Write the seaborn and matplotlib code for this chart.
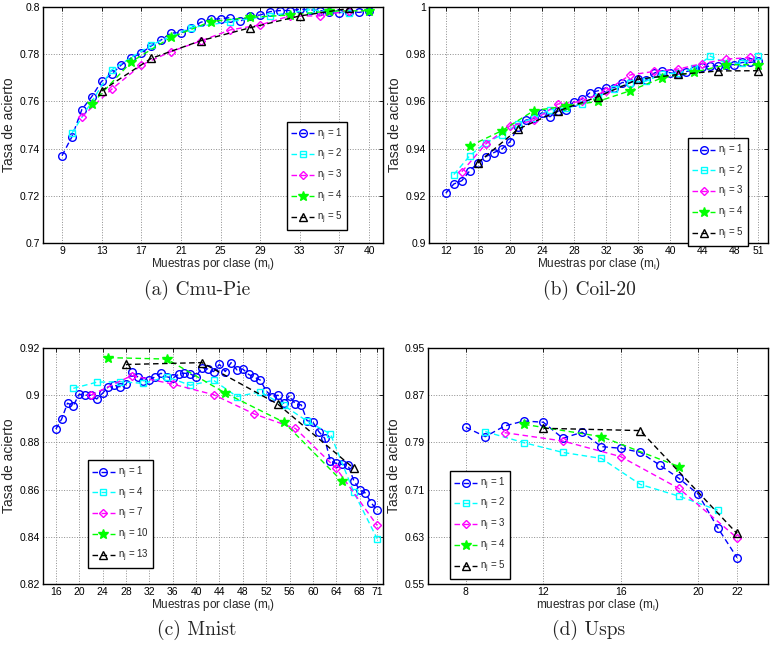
import matplotlib
matplotlib.use("Agg")
import matplotlib.pyplot as plt
from matplotlib.ticker import FuncFormatter
import seaborn as sns

# ---- (a) Cmu-Pie
pie_x1 = list(range(9, 41))
pie_y1 = [0.737, 0.745, 0.7565, 0.762, 0.7685, 0.7715, 0.7755, 0.7785, 0.7805, 0.7835,
          0.786, 0.789, 0.789, 0.791, 0.7935, 0.7948, 0.795, 0.7955, 0.794, 0.7962,
          0.7966, 0.798, 0.7985, 0.7985, 0.799, 0.7988, 0.7985, 0.798, 0.7976, 0.798,
          0.7977, 0.7985]
pie_x2 = [10, 14, 18, 22, 26, 30, 34, 38]
pie_y2 = [0.7465, 0.7733, 0.7839, 0.7912, 0.7938, 0.7963, 0.7988, 0.7975]
pie_x3 = [11, 14, 17, 20, 23, 26, 29, 32, 35, 38]
pie_y3 = [0.7535, 0.7651, 0.7754, 0.7811, 0.7856, 0.7903, 0.7924, 0.7962, 0.7962, 0.7985]
pie_x4 = [12, 16, 20, 24, 28, 32, 36, 40]
pie_y4 = [0.7589, 0.7768, 0.7871, 0.7938, 0.7956, 0.7966, 0.7983, 0.7984]
pie_x5 = [13, 18, 23, 28, 33, 38]
pie_y5 = [0.7645, 0.7782, 0.7857, 0.7912, 0.7962, 0.7994]

# ---- (b) Coil-20
coil_x1 = list(range(12, 52))
coil_y1 = [0.9211, 0.925, 0.9264, 0.9306, 0.934, 0.9366, 0.9383, 0.9398, 0.9429, 0.9490,
           0.9521, 0.9528, 0.9552, 0.9535, 0.9559, 0.9564, 0.9599, 0.961, 0.9637, 0.9645,
           0.9658, 0.9658, 0.968, 0.968, 0.9694, 0.969, 0.972, 0.9730, 0.9721, 0.9716,
           0.9726, 0.9735, 0.9745, 0.975, 0.9751, 0.9756, 0.9756, 0.9765, 0.9765, 0.977]
coil_x2 = [13, 15, 17, 19, 21, 23, 25, 27, 29, 31, 33, 35, 37, 39, 41, 43, 45, 47, 49, 51]
coil_y2 = [0.929, 0.937, 0.9425, 0.9458, 0.9505, 0.953, 0.9565, 0.957, 0.9590, 0.962,
           0.9652, 0.968, 0.9686, 0.9715, 0.972, 0.974, 0.9792, 0.9762, 0.9762, 0.9792]
coil_x3 = [14, 17, 20, 23, 26, 29, 32, 35, 38, 41, 44, 47, 50]
coil_y3 = [0.9302, 0.942, 0.9496, 0.952, 0.9589, 0.9600, 0.9645, 0.9712, 0.9727, 0.9737,
           0.976, 0.9779, 0.9786]
coil_x4 = [15, 19, 23, 27, 31, 35, 39, 43, 47, 51]
coil_y4 = [0.9411, 0.9476, 0.9561, 0.958, 0.9600, 0.9645, 0.9700, 0.9724, 0.9755, 0.9756]
coil_x5 = [16, 21, 26, 31, 36, 41, 46, 51]
coil_y5 = [0.934, 0.9482, 0.9559, 0.962, 0.9694, 0.9714, 0.9729, 0.9730]

# ---- (c) Mnist
mn_x1 = list(range(16, 72))
mn_y1 = [0.8856, 0.8899, 0.8966, 0.8956, 0.9004, 0.9, 0.9, 0.8984, 0.9008, 0.9036,
         0.9042, 0.9036, 0.9046, 0.9097, 0.9078, 0.9062, 0.9064, 0.9078, 0.9093, 0.9078,
         0.9072, 0.9088, 0.9093, 0.909, 0.9078, 0.9117, 0.9111, 0.91, 0.9131, 0.91,
         0.9138, 0.9107, 0.9111, 0.9088, 0.9076, 0.9064, 0.9018, 0.8994, 0.9, 0.8966,
         0.8998, 0.8962, 0.8959, 0.8892, 0.8886, 0.8846, 0.8818, 0.8721, 0.8711, 0.8707,
         0.8704, 0.8638, 0.8599, 0.8585, 0.8543, 0.8514]
mn_x2 = [19, 23, 27, 31, 35, 39, 43, 47, 51, 55, 59, 63, 67, 71]
mn_y2 = [0.9029, 0.9055, 0.9057, 0.905, 0.9078, 0.9042, 0.9063, 0.8994, 0.9014, 0.8957,
         0.889, 0.8836, 0.8589, 0.8392]
mn_x3 = [22, 29, 36, 43, 50, 57, 64, 71]
mn_y3 = [0.9, 0.9083, 0.9047, 0.9002, 0.892, 0.8859, 0.869, 0.8448]
mn_x4 = [25, 35, 45, 55, 65]
mn_y4 = [0.9159, 0.9153, 0.9009, 0.8886, 0.8635]
mn_x5 = [28, 41, 54, 67]
mn_y5 = [0.913, 0.9138, 0.8962, 0.869]

# ---- (d) Usps
us_x1 = list(range(8, 23))
us_y1 = [0.8156, 0.7997, 0.8178, 0.8263, 0.8241, 0.797, 0.8072, 0.7828, 0.78, 0.7732,
         0.7517, 0.7291, 0.702, 0.6455, 0.5947]
us_x2 = [9, 11, 13, 15, 17, 19, 21]
us_y2 = [0.8082, 0.7895, 0.773, 0.7628, 0.7188, 0.6989, 0.6752]
us_x3 = [10, 13, 16, 19, 22]
us_y3 = [0.8065, 0.7924, 0.7658, 0.7119, 0.6283]
us_x4 = [11, 15, 19]
us_y4 = [0.8206, 0.7997, 0.749]
us_x5 = [12, 17, 22]
us_y5 = [0.8139, 0.81, 0.6356]

n_labels_std = [1, 2, 3, 4, 5]
n_labels_mnist = [1, 4, 7, 10, 13]

ticks_a_x = [9, 13, 17, 21, 25, 29, 33, 37, 40]
ticks_a_y = [0.7, 0.72, 0.74, 0.76, 0.78, 0.8]
ticks_b_x = [12, 16, 20, 24, 28, 32, 36, 40, 44, 48, 51]
ticks_b_y = [0.9, 0.92, 0.94, 0.96, 0.98, 1.0]
ticks_c_x = [16, 20, 24, 28, 32, 36, 40, 44, 48, 52, 56, 60, 64, 68, 71]
ticks_c_y = [0.82, 0.84, 0.86, 0.88, 0.9, 0.92]
ticks_d_x = [8, 12, 16, 20, 22]
ticks_d_y = [0.55, 0.63, 0.71, 0.79, 0.87, 0.95]

captions = ["(a) Cmu-Pie", "(b) Coil-20", "(c) Mnist", "(d) Usps"]

sns.set_style("white")
plt.rcParams["font.family"] = ["Liberation Sans", "DejaVu Sans"]
plt.rcParams["mathtext.fontset"] = "custom"
plt.rcParams["mathtext.rm"] = "Liberation Sans"

colors = ["blue", "cyan", "magenta", "lime", "black"]
markers = ["o", "s", "D", "*", "^"]
msizes = [5.5, 5, 4, 7, 5.5]

panels = [
    dict(series=[(pie_x1, pie_y1), (pie_x2, pie_y2), (pie_x3, pie_y3), (pie_x4, pie_y4), (pie_x5, pie_y5)],
         labels=n_labels_std, xt=ticks_a_x, yt=ticks_a_y, xlim=(7.08, 41.4),
         pos=[0.0558, 0.6273, 0.4416, 0.3620], leg=(0.718, 0.513),
         xlabel="Muestras por clase (m$_\\mathregular{i}$)"),
    dict(series=[(coil_x1, coil_y1), (coil_x2, coil_y2), (coil_x3, coil_y3), (coil_x4, coil_y4), (coil_x5, coil_y5)],
         labels=n_labels_std, xt=ticks_b_x, yt=ticks_b_y, xlim=(9.9, 52.2),
         pos=[0.5571, 0.6273, 0.4403, 0.3620], leg=(0.764, 0.445),
         xlabel="Muestras por clase (m$_\\mathregular{i}$)"),
    dict(series=[(mn_x1, mn_y1), (mn_x2, mn_y2), (mn_x3, mn_y3), (mn_x4, mn_y4), (mn_x5, mn_y5)],
         labels=n_labels_mnist, xt=ticks_c_x, yt=ticks_c_y, xlim=(13.8, 72.0),
         pos=[0.0558, 0.1043, 0.4416, 0.3620], leg=(0.132, 0.525),
         xlabel="Muestras por clase (m$_\\mathregular{i}$)"),
    dict(series=[(us_x1, us_y1), (us_x2, us_y2), (us_x3, us_y3), (us_x4, us_y4), (us_x5, us_y5)],
         labels=n_labels_std, xt=ticks_d_x, yt=ticks_d_y, xlim=(6.04, 23.6),
         pos=[0.5558, 0.1043, 0.4416, 0.3620], leg=(0.065, 0.479),
         xlabel="muestras por clase (m$_\\mathregular{i}$)"),
]

fig = plt.figure(figsize=(7.7, 6.52), dpi=100)
fmt = FuncFormatter(lambda v, p: "%g" % round(v, 4))

for p in panels:
    ax = fig.add_axes(p["pos"])
    for k, (xs, ys) in enumerate(p["series"]):
        fc = colors[k] if markers[k] == "*" else "none"
        sns.lineplot(x=xs, y=ys, ax=ax, color=colors[k], linestyle=(0, (4, 2.5)),
                     linewidth=1.0, marker=markers[k], markersize=msizes[k],
                     markerfacecolor=fc, markeredgecolor=colors[k], markeredgewidth=1.0,
                     errorbar=None, sort=False,
                     label="n$_\\mathregular{j}$ = %d" % p["labels"][k])
    ax.set_xlim(*p["xlim"])
    ax.set_ylim(p["yt"][0], p["yt"][-1])
    ax.set_xticks(p["xt"])
    ax.set_yticks(p["yt"])
    ax.yaxis.set_major_formatter(fmt)
    ax.grid(True, linestyle=":", color="0.55", linewidth=0.7)
    ax.tick_params(direction="in", length=3, width=0.6, top=True, right=True,
                   labelsize=7.5, pad=2, colors="black")
    for s in ax.spines.values():
        s.set_color("black")
        s.set_linewidth(1.0)
    ax.set_xlabel(p["xlabel"], fontsize=8.5, labelpad=0)
    ax.set_ylabel("Tasa de acierto", fontsize=10, labelpad=3)
    leg = ax.legend(loc="upper left", bbox_to_anchor=p["leg"], borderaxespad=0,
                    frameon=True, fancybox=False, edgecolor="black", framealpha=1,
                    fontsize=7, handlelength=2.3, labelspacing=0.45, borderpad=0.45,
                    handletextpad=0.3)
    leg.get_frame().set_linewidth(1.0)

cap_font = ["cmr10", "DejaVu Serif"]
fig.text(0.256, 1 - 290 / 652, captions[0], ha="center", va="center", fontsize=14, family=cap_font)
fig.text(0.765, 1 - 290 / 652, captions[1], ha="center", va="center", fontsize=14, family=cap_font)
fig.text(0.256, 1 - 630 / 652, captions[2], ha="center", va="center", fontsize=14, family=cap_font)
fig.text(0.765, 1 - 630 / 652, captions[3], ha="center", va="center", fontsize=14, family=cap_font)

fig.savefig("out.png", dpi=100)
